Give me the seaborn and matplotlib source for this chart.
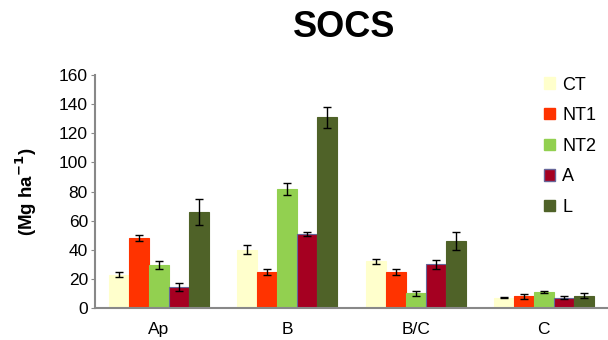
import numpy as np
import pandas as pd
import matplotlib
matplotlib.use("Agg")
import matplotlib.pyplot as plt
import seaborn as sns

horizons = ["Ap", "B", "B/C", "C"]
treatments = ["CT", "NT1", "NT2", "A", "L"]

# SOCS per horizon, one list per treatment (Mg ha-1)
ct = [23, 40, 32, 7]
nt1 = [48, 25, 25, 8]
nt2 = [29.5, 82, 10, 11]
a = [14.5, 51, 30, 7]
l = [66, 131, 46, 8.5]

ct_err = [1.5, 3, 1.5, 0.3]
nt1_err = [2, 2, 2, 1.5]
nt2_err = [3, 4, 2, 0.5]
a_err = [3, 1.5, 3, 1]
l_err = [9, 7, 6, 1.5]

colors = ["#FFFFCC", "#FF3300", "#92D050", "#A50021", "#4F6228"]
edges = ["#FFFFCC", "#FF3300", "#92D050", "#666699", "#4F6228"]

values = [ct, nt1, nt2, a, l]
errors = [ct_err, nt1_err, nt2_err, a_err, l_err]

rows = []
for t, vals, errs in zip(treatments, values, errors):
    for h, v, e in zip(horizons, vals, errs):
        rows.append({"horizon": h, "treatment": t, "socs": v, "err": e})
df = pd.DataFrame(rows)

sns.set_style("white")
plt.rcParams["font.family"] = ["Liberation Sans", "DejaVu Sans"]
plt.rcParams["text.color"] = "black"
plt.rcParams["axes.labelcolor"] = "black"
plt.rcParams["xtick.color"] = "black"
plt.rcParams["ytick.color"] = "black"

fig = plt.figure(figsize=(6.08, 3.4), dpi=100)
ax = fig.add_axes([0.156, 0.094, 0.844, 0.685])

sns.barplot(data=df, x="horizon", y="socs", hue="treatment", order=horizons,
            hue_order=treatments, palette=colors, width=0.78, gap=0,
            errorbar=None, ax=ax, saturation=1, legend=True)

# error bars at the bar centres
for i, t in enumerate(treatments):
    cont = ax.containers[i]
    for bar, h in zip(cont, horizons):
        bar.set_edgecolor(edges[i])
        bar.set_linewidth(0.8)
        row = df[(df.treatment == t) & (df.horizon == h)].iloc[0]
        ax.errorbar(bar.get_x() + bar.get_width() / 2, row.socs, yerr=row.err,
                    fmt="none", ecolor="black", elinewidth=1, capsize=3, capthick=1)

ax.set_ylim(0, 160)
ax.set_xlim(-0.5, 3.5)
ax.set_yticks(np.arange(0, 161, 20))
ax.set_xlabel("")
ax.set_ylabel("(Mg ha$^{\\mathbf{-1}}$)", fontsize=13.5, fontweight="bold", labelpad=14)
ax.tick_params(axis="y", labelsize=12.5, length=3, color="#888888", left=True, pad=2)
ax.tick_params(axis="x", labelsize=12.5, length=0, pad=10)

sns.despine(ax=ax)
for s in ["left", "bottom"]:
    ax.spines[s].set_color("#888888")
    ax.spines[s].set_linewidth(1.5)

handles, labels = ax.get_legend_handles_labels()
for hd, ec in zip(handles, edges):
    hd.set_edgecolor(ec)
ax.legend(handles, labels, loc="upper left", bbox_to_anchor=(0.862, 1.025),
          frameon=False, fontsize=13, handlelength=0.6, handleheight=0.6,
          handletextpad=0.4, labelspacing=0.75, borderaxespad=0)

fig.suptitle("SOCS", fontsize=26, fontweight="bold", x=0.566, y=0.97)

fig.savefig("out.png", dpi=100)
